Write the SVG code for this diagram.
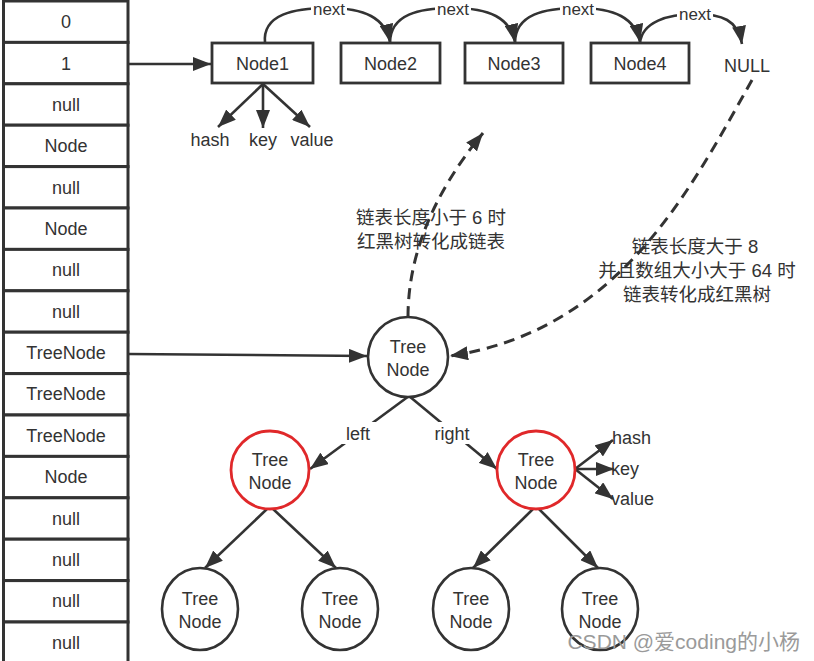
<svg xmlns="http://www.w3.org/2000/svg" width="814" height="661" viewBox="0 0 814 661">
<style>
.cell{fill:#fff;stroke:#333;stroke-width:3}
.box{fill:#fff;stroke:#333;stroke-width:2.8}
.circ{fill:#fff;stroke:#333;stroke-width:2.6}
.red{fill:#fff;stroke:#e0282a;stroke-width:2.8}
.t{font-family:"Liberation Sans",Arial,sans-serif;font-size:18px;fill:#333;text-anchor:middle}
.tl{font-family:"Liberation Sans",Arial,sans-serif;font-size:18px;fill:#333}
.nx{font-family:"Liberation Sans",Arial,sans-serif;font-size:17px;fill:#333;text-anchor:middle}
.cn{font-family:"Liberation Sans","Noto Sans CJK SC",sans-serif;font-size:18.5px;fill:#333;text-anchor:middle}
.ln{fill:none;stroke:#333;stroke-width:2.6}
.dash{fill:none;stroke:#333;stroke-width:3;stroke-dasharray:11 7}
.bg{fill:#fff}
.wm{font-family:"Liberation Sans","Noto Sans CJK SC",sans-serif;font-size:21px;fill:#9a9a9a;text-anchor:end}
</style>
<defs>
<marker id="ah" markerUnits="userSpaceOnUse" markerWidth="20" markerHeight="14" refX="18" refY="7" orient="auto">
<path d="M0,0 L18,7 L0,14 z" fill="#333"/>
</marker>
</defs>
<g id="array">
<rect class="cell" x="3.5" y="1" width="124.5" height="41.4"/><text class="t" x="66" y="28">0</text>
<rect class="cell" x="3.5" y="42.4" width="124.5" height="41.4"/><text class="t" x="66" y="70">1</text>
<rect class="cell" x="3.5" y="83.8" width="124.5" height="41.4"/><text class="t" x="66" y="111">null</text>
<rect class="cell" x="3.5" y="125.2" width="124.5" height="41.4"/><text class="t" x="66" y="152">Node</text>
<rect class="cell" x="3.5" y="166.6" width="124.5" height="41.4"/><text class="t" x="66" y="194">null</text>
<rect class="cell" x="3.5" y="208" width="124.5" height="41.4"/><text class="t" x="66" y="235">Node</text>
<rect class="cell" x="3.5" y="249.4" width="124.5" height="41.4"/><text class="t" x="66" y="276">null</text>
<rect class="cell" x="3.5" y="290.8" width="124.5" height="41.4"/><text class="t" x="66" y="318">null</text>
<rect class="cell" x="3.5" y="332.2" width="124.5" height="41.4"/><text class="t" x="66" y="359">TreeNode</text>
<rect class="cell" x="3.5" y="373.6" width="124.5" height="41.4"/><text class="t" x="66" y="400">TreeNode</text>
<rect class="cell" x="3.5" y="415" width="124.5" height="41.4"/><text class="t" x="66" y="442">TreeNode</text>
<rect class="cell" x="3.5" y="456.4" width="124.5" height="41.4"/><text class="t" x="66" y="483">Node</text>
<rect class="cell" x="3.5" y="497.8" width="124.5" height="41.4"/><text class="t" x="66" y="525">null</text>
<rect class="cell" x="3.5" y="539.2" width="124.5" height="41.4"/><text class="t" x="66" y="566">null</text>
<rect class="cell" x="3.5" y="580.6" width="124.5" height="41.4"/><text class="t" x="66" y="607">null</text>
<rect class="cell" x="3.5" y="622" width="124.5" height="41.4"/><text class="t" x="66" y="649">null</text>
</g>
<g id="connectors">
<line class="ln" x1="128" y1="64" x2="211" y2="64" marker-end="url(#ah)"/>
<line class="ln" x1="128" y1="354" x2="367" y2="356" marker-end="url(#ah)"/>
<path class="ln" d="M265,43 C262,14 295,8 328,8 C365,8 385,18 390,42" marker-end="url(#ah)"/>
<path class="ln" d="M390,43 C390,14 420,8 452,8 C490,8 510,18 515,42" marker-end="url(#ah)"/>
<path class="ln" d="M515,43 C515,14 545,8 578,8 C615,8 635,18 640,42" marker-end="url(#ah)"/>
<path class="ln" d="M640,43 C642,22 668,14 695,14 C722,14 738,20 742,44" marker-end="url(#ah)"/>
<line class="ln" x1="263" y1="84" x2="218" y2="127" marker-end="url(#ah)"/>
<line class="ln" x1="263" y1="84" x2="263" y2="128" marker-end="url(#ah)"/>
<line class="ln" x1="263" y1="84" x2="310" y2="127" marker-end="url(#ah)"/>
<path class="dash" d="M408,317 C408,262 428,200 483,133" marker-end="url(#ah)"/>
<path class="dash" d="M752,80 C690,190 620,330 450,356" marker-end="url(#ah)"/>
<line class="ln" x1="409" y1="396" x2="310" y2="469" marker-end="url(#ah)"/>
<line class="ln" x1="409" y1="396" x2="497" y2="469" marker-end="url(#ah)"/>
<line class="ln" x1="575" y1="469" x2="613" y2="440" marker-end="url(#ah)"/>
<line class="ln" x1="575" y1="469" x2="614" y2="469" marker-end="url(#ah)"/>
<line class="ln" x1="575" y1="469" x2="613" y2="499" marker-end="url(#ah)"/>
<line class="ln" x1="268" y1="508" x2="205" y2="568" marker-end="url(#ah)"/>
<line class="ln" x1="272" y1="508" x2="336" y2="568" marker-end="url(#ah)"/>
<line class="ln" x1="534" y1="508" x2="473" y2="568" marker-end="url(#ah)"/>
<line class="ln" x1="538" y1="508" x2="598" y2="568" marker-end="url(#ah)"/>
<rect class="bg" x="311" y="1" width="36" height="14"/><text class="nx" x="329" y="15">next</text>
<rect class="bg" x="435" y="1" width="36" height="14"/><text class="nx" x="453" y="15">next</text>
<rect class="bg" x="560" y="1" width="36" height="14"/><text class="nx" x="578" y="15">next</text>
<rect class="bg" x="677" y="7" width="36" height="14"/><text class="nx" x="695" y="20">next</text>
<rect class="bg" x="340" y="422" width="36" height="22"/><text class="t" x="358" y="440">left</text>
<rect class="bg" x="430" y="422" width="44" height="22"/><text class="t" x="452" y="440">right</text>
<text class="t" x="210" y="146">hash</text>
<text class="t" x="263" y="146">key</text>
<text class="t" x="312" y="146">value</text>
<text class="tl" x="612" y="444">hash</text>
<text class="tl" x="611" y="475">key</text>
<text class="tl" x="611" y="505">value</text>
<text class="cn" x="431" y="224">链表长度小于 6 时</text>
<text class="cn" x="431" y="248">红黑树转化成链表</text>
<text class="cn" x="695" y="253">链表长度大于 8</text>
<text class="cn" x="697" y="277">并且数组大小大于 64 时</text>
<text class="cn" x="697" y="301">链表转化成红黑树</text>
</g>
<g id="node1"><rect class="box" x="212" y="43" width="101" height="40"/><text class="t" x="262.5" y="70">Node1</text></g>
<g id="node2"><rect class="box" x="341" y="43" width="99" height="40"/><text class="t" x="390.5" y="70">Node2</text></g>
<g id="node3"><rect class="box" x="465" y="43" width="98" height="40"/><text class="t" x="514" y="70">Node3</text></g>
<g id="node4"><rect class="box" x="591" y="43" width="98" height="40"/><text class="t" x="640" y="70">Node4</text></g>
<g id="null"><text class="t" x="747" y="72">NULL</text></g>
<g id="root"><circle class="circ" cx="408" cy="357" r="40"/><text class="t" x="408" y="353">Tree</text><text class="t" x="408" y="376">Node</text></g>
<g id="left"><circle class="red" cx="270" cy="470" r="39"/><text class="t" x="270" y="466">Tree</text><text class="t" x="270" y="489">Node</text></g>
<g id="right"><circle class="red" cx="536" cy="470" r="39"/><text class="t" x="536" y="466">Tree</text><text class="t" x="536" y="489">Node</text></g>
<g id="ll"><ellipse class="circ" cx="200" cy="609" rx="38" ry="41"/><text class="t" x="200" y="605">Tree</text><text class="t" x="200" y="628">Node</text></g>
<g id="lr"><ellipse class="circ" cx="340" cy="609" rx="38" ry="41"/><text class="t" x="340" y="605">Tree</text><text class="t" x="340" y="628">Node</text></g>
<g id="rl"><ellipse class="circ" cx="471" cy="609" rx="38" ry="41"/><text class="t" x="471" y="605">Tree</text><text class="t" x="471" y="628">Node</text></g>
<g id="rr"><ellipse class="circ" cx="600" cy="609" rx="38" ry="41"/><text class="t" x="600" y="605">Tree</text><text class="t" x="600" y="628">Node</text></g>
<text class="wm" x="800" y="649">CSDN @爱coding的小杨</text>
</svg>
